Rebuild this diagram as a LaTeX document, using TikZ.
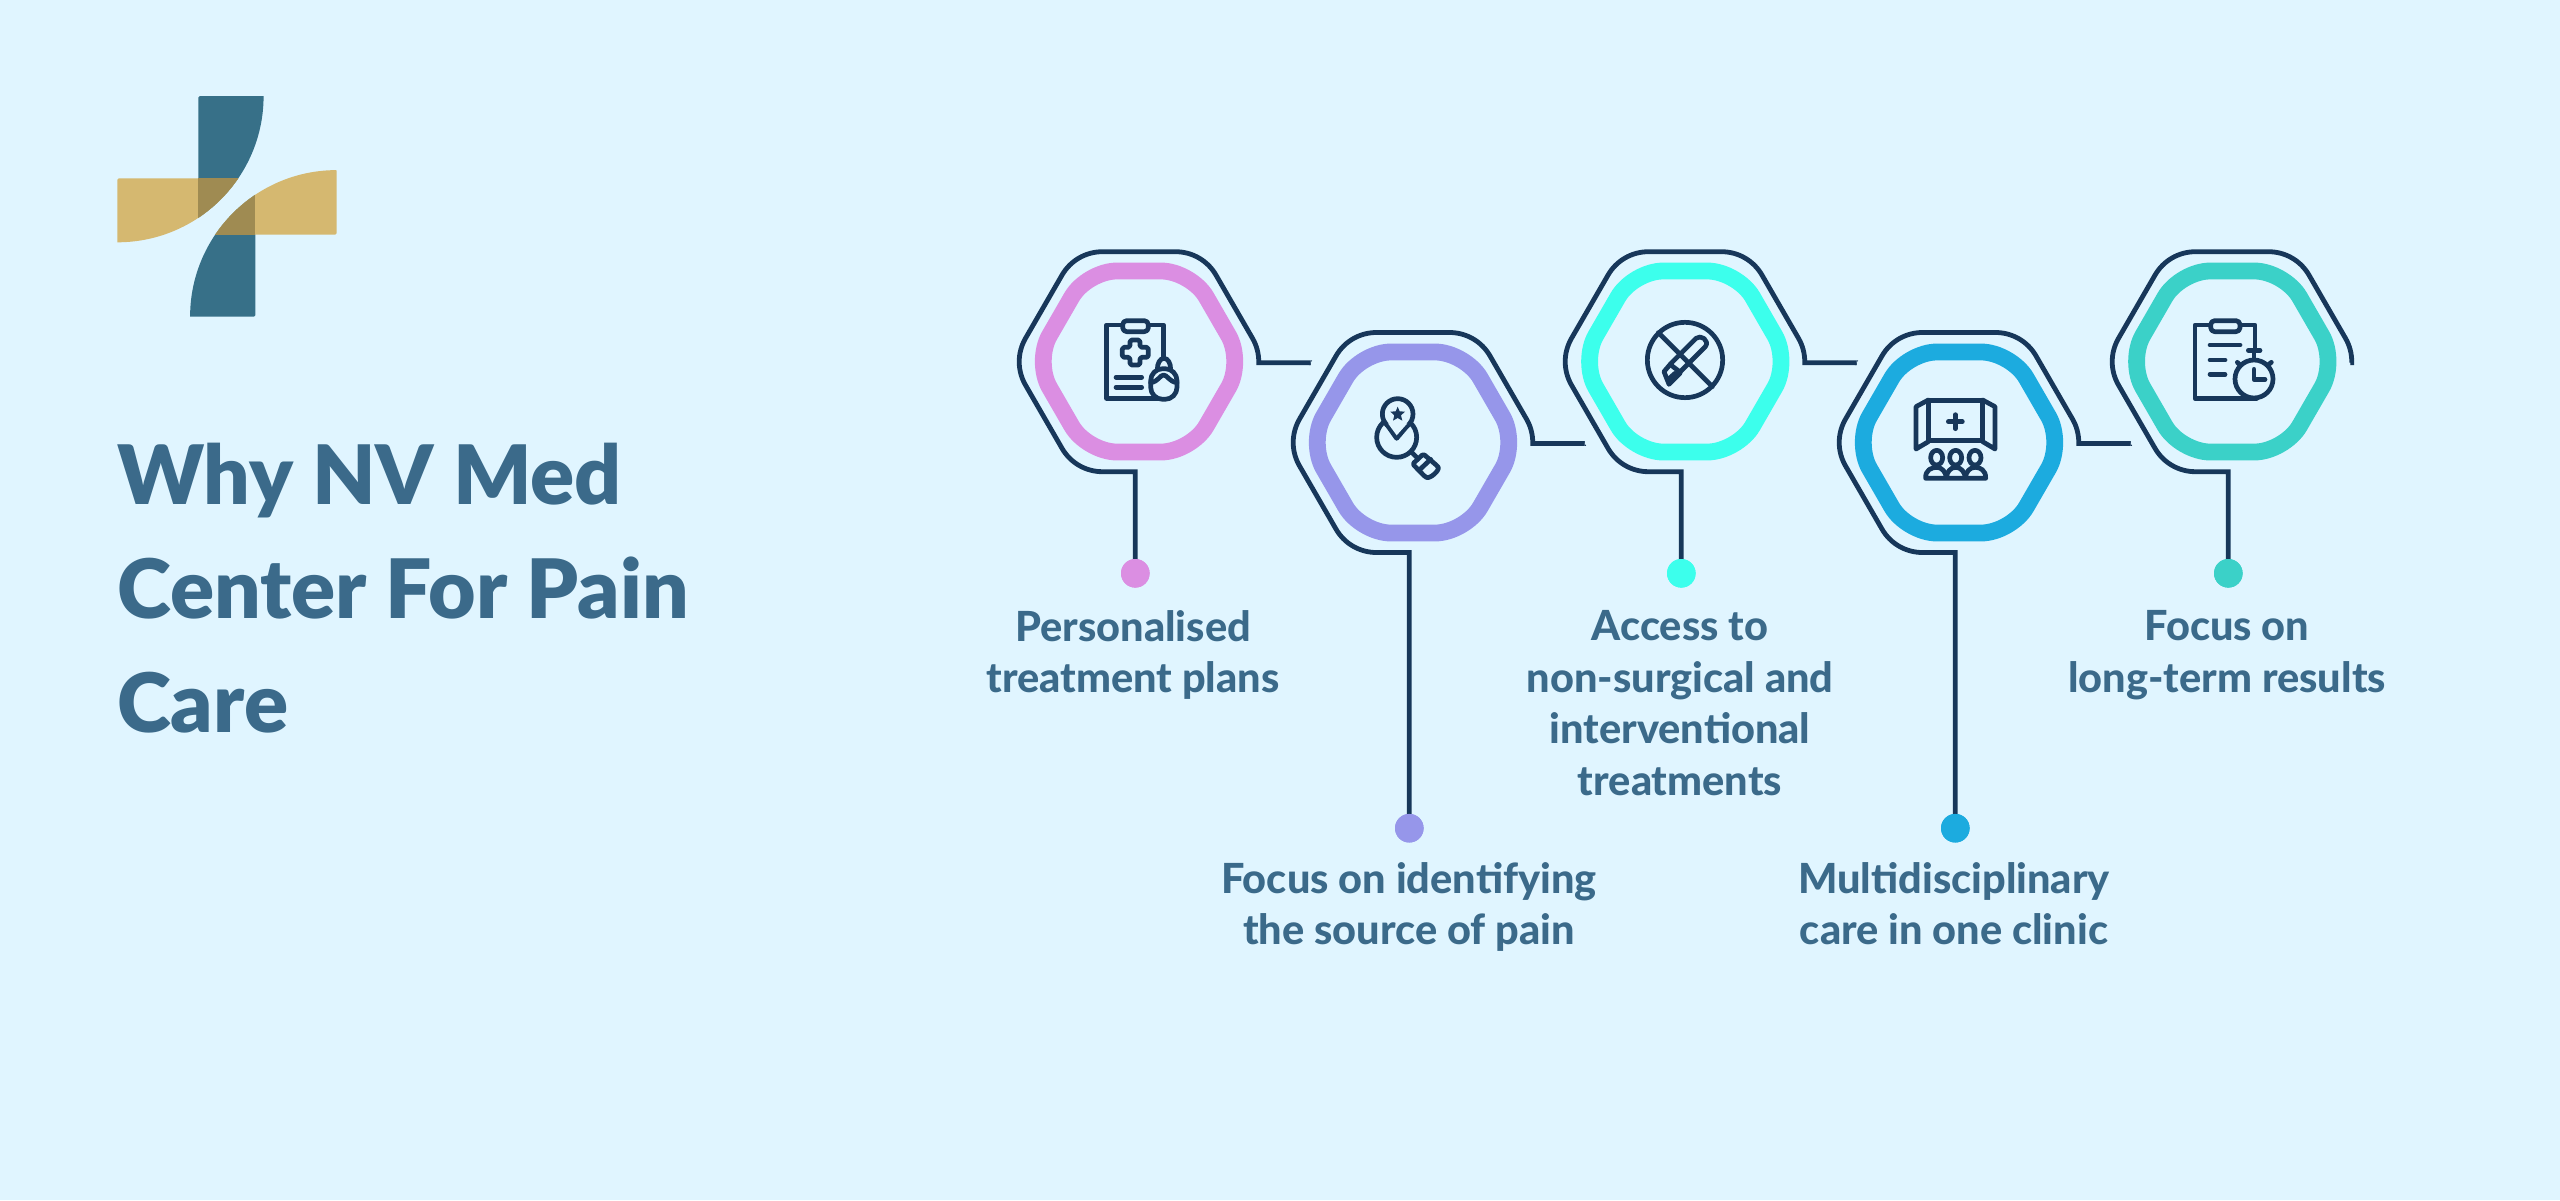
\documentclass[tikz,border=0pt]{standalone}
\usepackage{fontspec}
\setmainfont{Lato}
\newfontfamily\titlef{Lato Heavy}
\newfontfamily\headf{Lato Black}
\definecolor{bgc}{HTML}{E0F5FF}
\definecolor{wirec}{HTML}{17375A}
\definecolor{textc}{HTML}{3B6A8A}
\definecolor{pinkc}{HTML}{DB8EE2}
\definecolor{purplec}{HTML}{9696EA}
\definecolor{cyanc}{HTML}{3CFFEC}
\definecolor{bluec}{HTML}{1CABDF}
\definecolor{tealc}{HTML}{3BD1C8}
\definecolor{logob}{HTML}{377088}
\definecolor{logog}{HTML}{D5B870}
\definecolor{logoo}{HTML}{9F8B52}
\tikzset{
  wire/.style={draw=wirec,line width=4.8pt,miter limit=10},
  ringline/.style={line width=16.8pt,rounded corners=30pt},
  icon/.style={draw=wirec,line width=4.7pt,line cap=round,line join=round},
  iconfill/.style={fill=wirec},
  dotnode/.style={circle,inner sep=0pt,minimum size=28.6pt},
  lab/.style={anchor=north,inner sep=0pt,align=center,text=textc,font=\fontsize{41.5}{51.7}\selectfont\titlef},
  titlenode/.style={anchor=north west,inner sep=0pt,align=left,text=textc,font=\fontsize{82}{114.3}\selectfont\headf},
}
% #1 name #2 cx #3 cy #4 colour #5 ring cx #6 ring cy #7 drop length #8 connector end (relative, 0 for none) #9 slant
\newcommand{\hexitem}[9]{%
  \coordinate (#1c) at (#2,#3);
  \draw[ringline,draw=#4] (#5+104.5,#6) -- (#5+52.25,#6-90.5) -- (#5-52.25,#6-90.5) -- (#5-104.5,#6) -- (#5-52.25,#6+90.5) -- (#5+52.25,#6+90.5) -- cycle;
  \node[dotnode,fill=#4] (#1d) at (#2-3.7,#3+#7) {};
  \coordinate (#1e) at (#2+#8-1.5,#3+1);
  \begin{scope}[shift={(#1c)}]
  \draw[wire] (-3.7,#7) -- (-3.7,110) -- (-36.5,110)
    .. controls (-53.3,110) and (-68.6,101.15) .. (-77,86.6)
    -- (-113.5,23.4) .. controls (-121.9,8.85) and (-121.9,-8.85) .. (-113.5,-23.4)
    -- (-77,-86.6) .. controls (-68.6,-101.15) and (-53.3,-110) .. (-36.5,-110)
    -- (36.5,-110) .. controls (53.3,-110) and (68.6,-101.15) .. (77,-86.6)
    -- (113.5,-23.4) .. controls (117.63,-16.26) and (119.73,-8.25) .. (119.73,0)
    -- (119.73,1) -- (#8-1.5,1);
  \fill[wirec] (#8-1.5,-1.4) -- (#8-1.5+#9,-1.4) -- (#8-1.5-#9,3.4) -- (#8-1.5,3.4) -- cycle;
  \end{scope}
  \node[dotnode,fill=#4] at (#1d) {};
}
\begin{document}
\begin{tikzpicture}[x=1pt,y=-1pt]
\useasboundingbox (0,0) rectangle (2560,1200);
\fill[bgc] (0,0) rectangle (2560,1200);
% logo
\begin{scope}
  \clip (117.3,96) circle (146.3pt);
  \fill[logob,rounded corners=1.5pt] (198.3,96) rectangle (300,300);
  \fill[logog,rounded corners=1.5pt] (117.3,178.3) rectangle (300,300);
  \fill[logoo] (198.3,178.3) rectangle (300,300);
\end{scope}
\begin{scope}
  \clip (336.7,316.7) circle (146.6pt);
  \fill[logob,rounded corners=1.5pt] (150,150) rectangle (255.3,316.7);
  \fill[logog,rounded corners=1.5pt] (150,169.3) rectangle (336.7,234.7);
  \fill[logoo] (150,150) rectangle (255.3,234.7);
\end{scope}
% title
\node[titlenode] (title) at (117,442.5) {Why NV Med\\Center For Pain\\Care};
% items
\hexitem{a}{1139}{361.7}{pinkc}{1139}{361.5}{211.6}{173}{1.7}
\hexitem{b}{1413}{442.5}{purplec}{1413}{442.5}{385.7}{173}{-1.7}
\hexitem{c}{1685}{361.7}{cyanc}{1685.3}{361.5}{211.6}{173}{1.7}
\hexitem{d}{1959}{442.5}{bluec}{1959}{442.5}{385.7}{173}{-1.7}
\hexitem{e}{2232}{361.7}{tealc}{2232.3}{361.5}{211.6}{119.73}{0}
% labels
\node[lab] (la) at (1133,610) {Personalised\\treatment plans};
\node[lab] (lb) at (1409,862) {Focus on identifying\\the source of pain};
\node[lab] (lc) at (1680,610) {Access to\\non-surgical and\\interventional\\treatments};
\node[lab] (ld) at (1954,862) {Multidisciplinary\\care in one clinic};
\node[lab] (le) at (2227,610) {Focus on\\long-term results};
% icon 1
\begin{scope}[shift={(1080,310)},x=0.3333pt,y=-0.3333pt]
  \draw[icon] (250,140) -- (250,45) -- (80,45) -- (80,265) -- (245,265);
  \draw[icon,rounded corners=4pt,fill=bgc] (128,32) rectangle (205,65);
  \draw[icon,rounded corners=1.7pt] (150,90) -- (180,90) -- (180,112) -- (205,112) -- (205,142) -- (180,142) -- (180,165) -- (150,165) -- (150,142) -- (127,142) -- (127,112) -- (150,112) -- cycle;
  \draw[icon] (108,202) -- (185,202) (108,232) -- (185,232);
  \draw[icon] (232,178) .. controls (232,160) and (240,145) .. (252,145) .. controls (264,145) and (272,160) .. (272,178);
  \draw[icon,fill=bgc,rounded corners=12pt] (212,176) rectangle (291,268);
  \draw[icon] (212,218) .. controls (235,215) and (240,195) .. (251,195) .. controls (262,195) and (267,215) .. (291,218);
\end{scope}
% icon 2
\begin{scope}[shift={(1360,390)},x=0.3333pt,y=-0.3333pt]
  \draw[icon] (110,142) circle (60);
  \draw[icon,fill=bgc] (78,100) -- (110,145) -- (148,100) -- cycle;
  \draw[icon,fill=bgc] (113,72) circle (46);
  \fill[bgc] (84,100) -- (110,136) -- (142,100) -- cycle;
  \fill[wirec] (113,50) -- (119,64) -- (135,65) -- (123,76) -- (127,92) -- (113,84) -- (99,92) -- (103,76) -- (91,65) -- (107,64) -- cycle;
  \draw[icon] (155,187) -- (172,204);
  \draw[icon,rounded corners=1.5pt] (190,192) -- (158,222) -- (195,260) .. controls (210,268) and (240,240) .. (232,228) -- cycle;
  \draw[icon] (178,240) -- (212,208);
\end{scope}
% icon 3
\begin{scope}[shift={(1630,310)},x=0.3333pt,y=-0.3333pt]
  \draw[icon] (165,150) circle (113);
  \draw[icon] (85,68) -- (247,230);
  \draw[icon] (120,163) -- (198,85) .. controls (212,72) and (240,92) .. (226,110) -- (150,186) -- cycle;
  \draw[icon] (118,166) -- (102,185) -- (117,223) -- (150,190);
  \draw[icon] (118,205) -- (135,190);
\end{scope}
% icon 4
\begin{scope}[shift={(1900,390)},x=0.3333pt,y=-0.3333pt]
  \draw[icon] (85,32) rectangle (248,152);
  \draw[icon] (85,30) -- (48,50) -- (48,177) -- (85,155);
  \draw[icon] (248,30) -- (285,50) -- (285,177) -- (248,155);
  \draw[icon] (145,95) -- (187,95) (166,74) -- (166,116);
  \draw[icon] (110,203) ellipse (18 and 22);
  \draw[icon] (167,203) ellipse (18 and 22);
  \draw[icon] (225,203) ellipse (18 and 22);
  \draw[icon] (77,265) .. controls (75,240) and (95,232) .. (110,232) .. controls (125,232) and (138,245) .. (139,265) .. controls (140,245) and (152,232) .. (167,232) .. controls (182,232) and (195,245) .. (196,265) .. controls (197,245) and (210,232) .. (225,232) .. controls (240,232) and (258,240) .. (257,265) -- cycle;
\end{scope}
% icon 5
\begin{scope}[shift={(2180,310)},x=0.3333pt,y=-0.3333pt]
  \draw[icon] (225,120) -- (225,45) -- (45,45) -- (45,265) -- (230,265);
  \draw[icon,rounded corners=4pt,fill=bgc] (92,32) rectangle (180,65);
  \draw[icon] (90,105) -- (180,105) (90,150) -- (135,150) (90,193) -- (135,193);
  \draw[icon] (205,121) -- (240,121) (222,121) -- (222,150);
  \draw[icon,fill=bgc] (222,207) circle (57);
  \draw[icon] (172,157) -- (180,165) (274,157) -- (264,165);
  \draw[icon] (222,178) -- (222,208) -- (255,208);
\end{scope}
\end{tikzpicture}
\end{document}
